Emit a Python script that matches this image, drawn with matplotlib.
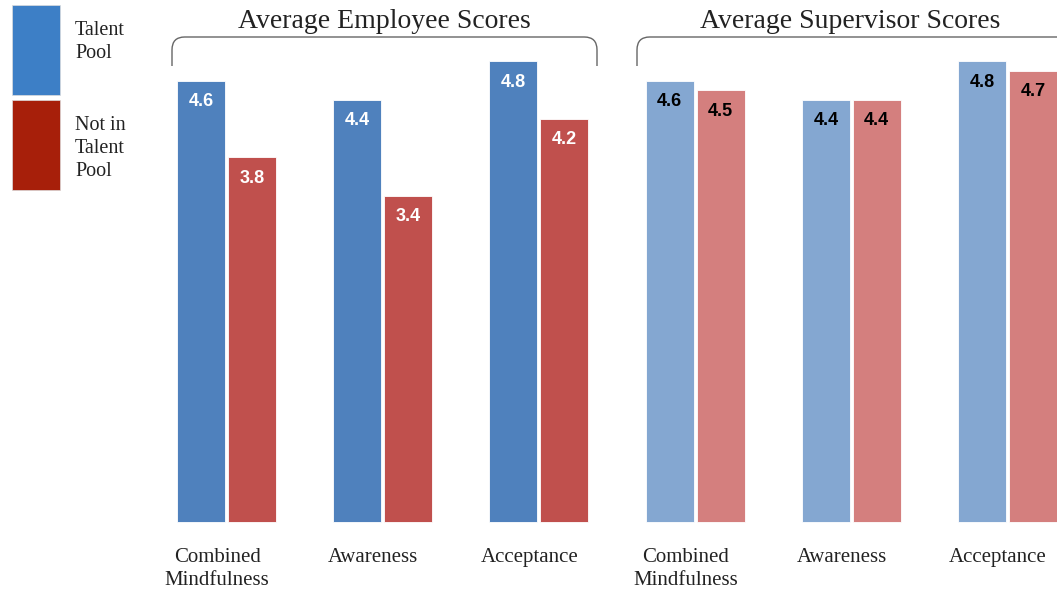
import matplotlib.pyplot as plt
import numpy as np
from matplotlib.patches import Rectangle, Path, PathPatch

# データ
categories = ["Combined\nMindfulness", "Awareness", "Acceptance"]
groups = ["Average Employee Scores", "Average Supervisor Scores"]
series = ["Talent\nPool", "Not in\nTalent\nPool"]
employee_talent = [4.6, 4.4, 4.8]
employee_not = [3.8, 3.4, 4.2]
supervisor_talent = [4.6, 4.4, 4.8]
supervisor_not = [4.5, 4.4, 4.7]

emp_colors = ["#4F81BD", "#C0504D"]
sup_colors = ["#84A7D1", "#D47F7E"]
legend_colors = ["#3D7FC6", "#A71F0A"]

SERIF = "Liberation Serif"
SANS = "Liberation Sans"


def draw_bars(ax, x0, talent, not_talent, colors, text_color):
    x = x0 + np.arange(len(talent))
    w = 0.307
    off = 0.163
    for xs, vals, c in [(x - off, talent, colors[0]), (x + off, not_talent, colors[1])]:
        ax.bar(xs, vals, width=w, color=c, edgecolor="white", linewidth=0.6)
        for xi, v in zip(xs, vals):
            ax.annotate(f"{v:.1f}", xy=(xi, v), xytext=(0, -15),
                        textcoords="offset points", ha="center", va="center",
                        fontsize=13, fontweight="bold", color=text_color,
                        family=SANS)
    for xi, lab in zip(x, categories):
        ax.text(xi - 0.06, -0.27, lab, ha="center", va="top", fontsize=15,
                family=SERIF, color="#222222", linespacing=1.3)


def bracket(fig, x1, x2, y_top, y_bot, right_end=True):
    r = 0.012
    verts = [(x1, y_bot), (x1, y_top - r * 1.8), (x1, y_top), (x1 + r, y_top)]
    codes = [Path.MOVETO, Path.LINETO, Path.CURVE3, Path.CURVE3]
    if right_end:
        verts += [(x2 - r, y_top), (x2, y_top), (x2, y_top - r * 1.8), (x2, y_bot)]
        codes += [Path.LINETO, Path.CURVE3, Path.CURVE3, Path.LINETO]
    else:
        verts += [(x2, y_top)]
        codes += [Path.LINETO]
    p = PathPatch(Path(verts, codes), transform=fig.transFigure, fill=False,
                  edgecolor="#666666", linewidth=1.0)
    fig.patches.append(p)


fig = plt.figure(figsize=(10.57, 5.95), dpi=100)
ax = fig.add_axes([0, 0, 1, 1])
ax.set_xlim(-1.45, 5.317)
ax.set_ylim(-0.76, 5.44)
ax.axis("off")

draw_bars(ax, 0, employee_talent, employee_not, emp_colors, "white")
draw_bars(ax, 3, supervisor_talent, supervisor_not, sup_colors, "black")

# グループ見出し
fig.text(384 / 1057, 1 - 22 / 595, groups[0], ha="center", va="center",
         fontsize=20, family=SERIF, color="#222222")
fig.text(850 / 1057, 1 - 22 / 595, groups[1], ha="center", va="center",
         fontsize=20, family=SERIF, color="#222222")
bracket(fig, 172 / 1057, 597 / 1057, 1 - 37 / 595, 1 - 66 / 595)
bracket(fig, 637 / 1057, 1.0, 1 - 37 / 595, 1 - 66 / 595, right_end=False)

# 凡例
for i, (lab, c) in enumerate(zip(series, legend_colors)):
    top = 5 + 95 * i
    fig.patches.append(Rectangle((12 / 1057, 1 - (top + 90) / 595), 48 / 1057, 90 / 595,
                                 transform=fig.transFigure, facecolor=c,
                                 edgecolor="#dddddd", linewidth=0.5))
    fig.text(75 / 1057, 1 - (top + 16) / 595, lab, ha="left", va="top",
             fontsize=14.5, family=SERIF, color="#222222", linespacing=1.3)

plt.savefig("out.png", dpi=100)
